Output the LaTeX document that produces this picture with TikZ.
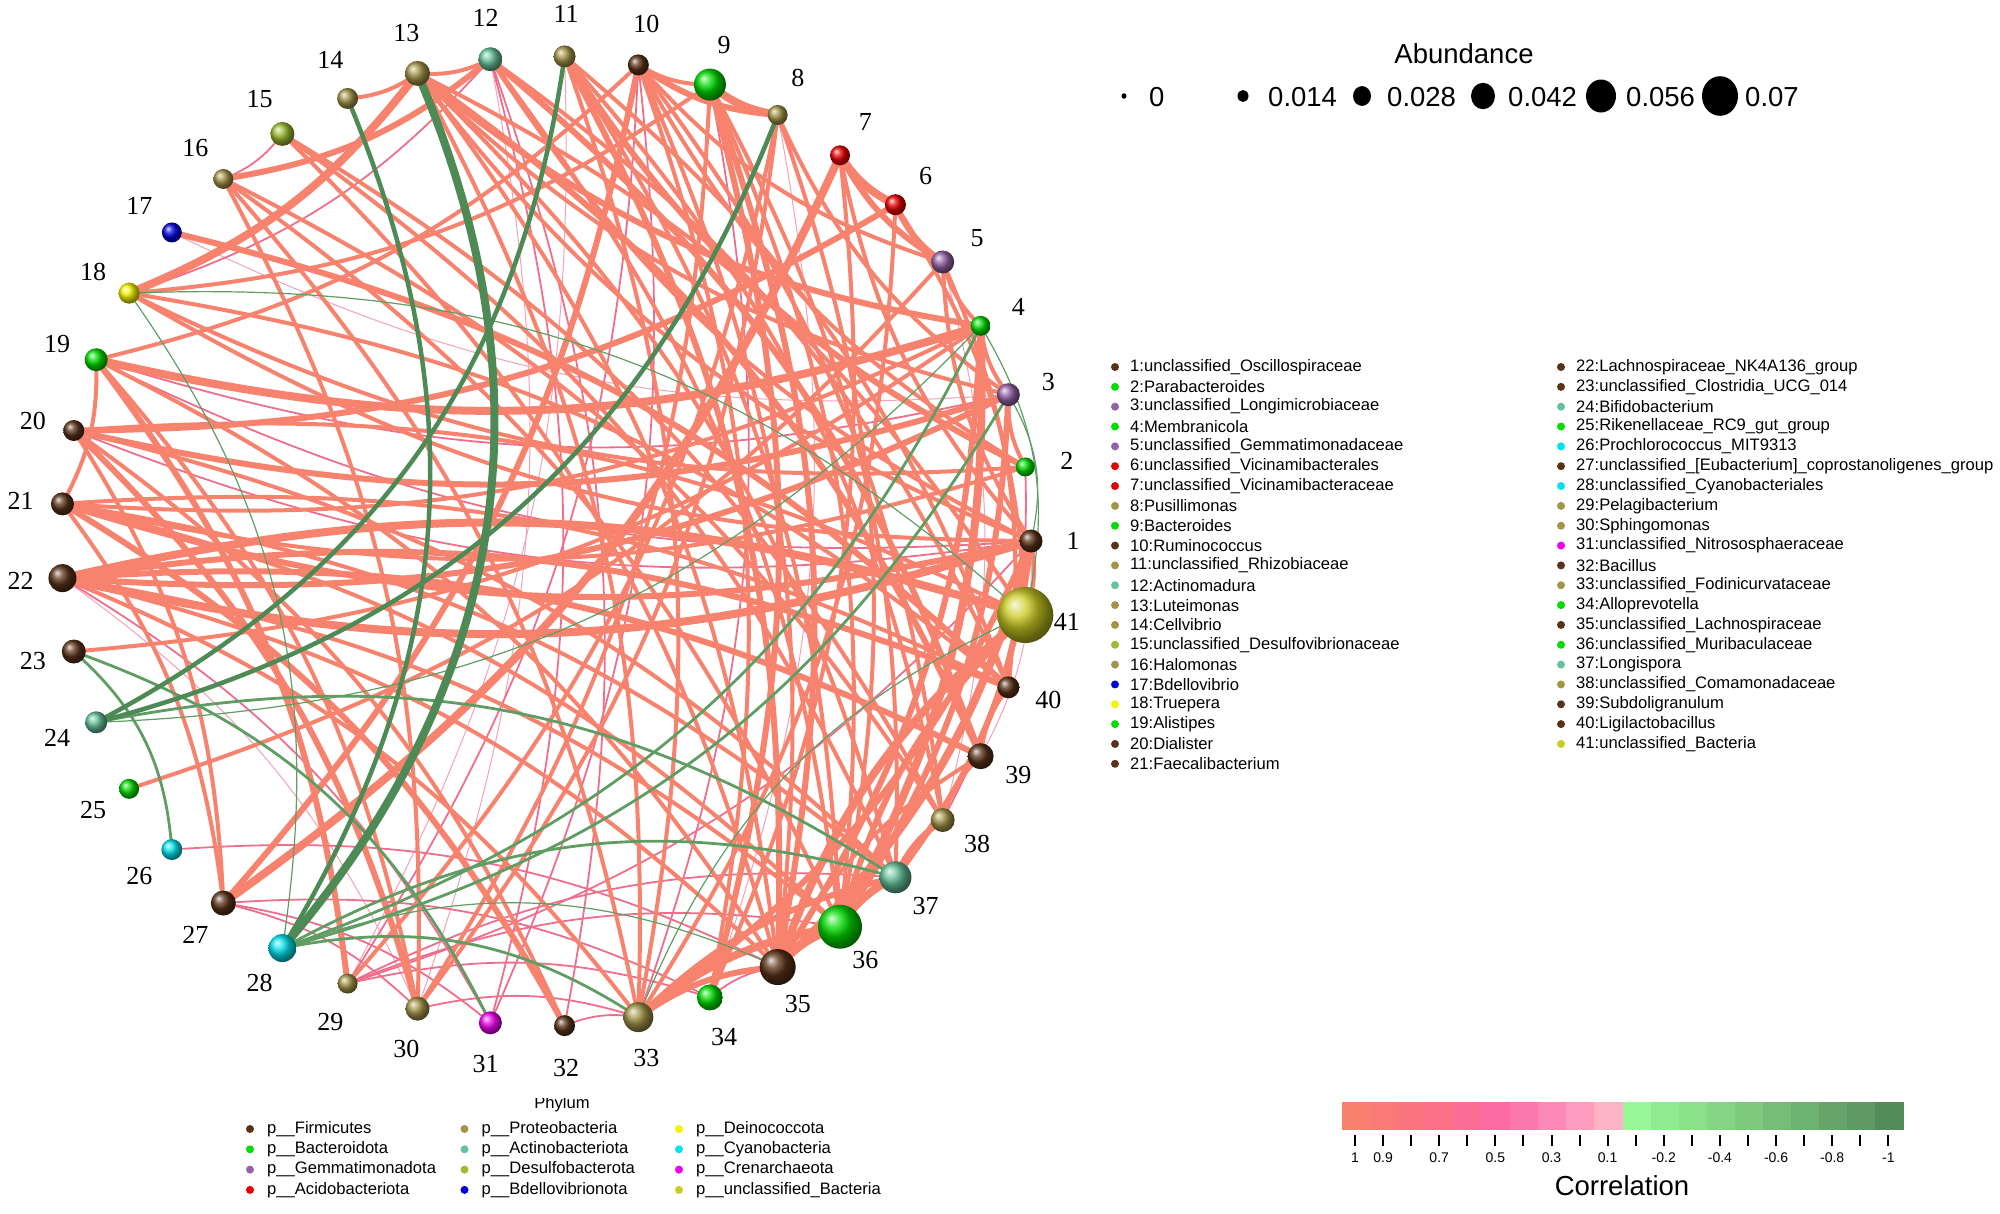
\documentclass[tikz,border=0pt]{standalone}
\usepackage{fontspec}
\setmainfont{Liberation Sans}
\newfontfamily\labfont{Liberation Serif}
\usetikzlibrary{shapes.geometric}
% phylum colours
\definecolor{firm}{HTML}{5A3218}
\definecolor{bact}{HTML}{00DD00}
\definecolor{gemm}{HTML}{9462A6}
\definecolor{acid}{HTML}{E80000}
\definecolor{prot}{HTML}{A39548}
\definecolor{acti}{HTML}{66C29A}
\definecolor{desu}{HTML}{9CBB30}
\definecolor{bdel}{HTML}{0000DD}
\definecolor{dein}{HTML}{F4F400}
\definecolor{cyan}{HTML}{00E2EC}
\definecolor{cren}{HTML}{EE00EE}
\definecolor{uncl}{HTML}{CCCC22}
% edge colours
\definecolor{salA}{HTML}{F7836F}
\definecolor{salB}{HTML}{EE6E8C}
\definecolor{salC}{HTML}{F4A2B6}
\definecolor{grnA}{HTML}{4E8A55}
\definecolor{grnB}{HTML}{5F9D63}
% colour bar
\definecolor{cb1}{HTML}{F9806F}\definecolor{cb2}{HTML}{FA7A78}
\definecolor{cb3}{HTML}{FB7580}\definecolor{cb4}{HTML}{FC7088}
\definecolor{cb5}{HTML}{FD6C94}\definecolor{cb6}{HTML}{FE6AA2}
\definecolor{cb7}{HTML}{FC78AE}\definecolor{cb8}{HTML}{FC88B6}
\definecolor{cb9}{HTML}{FD9CBF}\definecolor{cb10}{HTML}{FDB4C4}
\definecolor{cb11}{HTML}{98F898}\definecolor{cb12}{HTML}{90EC90}
\definecolor{cb13}{HTML}{8AE18A}\definecolor{cb14}{HTML}{84D684}
\definecolor{cb15}{HTML}{7ECB7E}\definecolor{cb16}{HTML}{76BE78}
\definecolor{cb17}{HTML}{6EB272}\definecolor{cb18}{HTML}{66A46A}
\definecolor{cb19}{HTML}{5E9862}\definecolor{cb20}{HTML}{528A58}

\begin{document}
\begin{tikzpicture}[x=1pt, y=1pt,
    ball/.style={circle, inner sep=0pt, shading=ball},
    pA/.style={draw=salA, line width=8pt, bend left=15},
    pB/.style={draw=salA, line width=6pt, bend left=15},
    pC/.style={draw=salA, line width=4pt, bend left=15},
    pE/.style={draw=salB, line width=1.8pt, bend left=15},
    pF/.style={draw=salC, line width=1pt, bend left=15},
    nA/.style={draw=grnA, line width=8pt, bend left=32},
    nB/.style={draw=grnA, line width=4.5pt, bend left=27},
    nC/.style={draw=grnB, line width=2.8pt, bend left=22},
    nD/.style={draw=grnB, line width=1.2pt, bend left=22},
    lbl/.style={font=\labfont\fontsize{26}{26}\selectfont},
    txt/.style={anchor=west, inner sep=0pt, font=\fontsize{16.6}{18}\selectfont},
    big/.style={inner sep=0pt, font=\fontsize{27.5}{30}\selectfont},
    tick/.style={inner sep=0pt, font=\fontsize{14}{16}\selectfont},
    dot/.style={circle, inner sep=0pt, minimum size=8pt},
  ]
  %%%%% START %%%%%
  \useasboundingbox (0,0) rectangle (2000,-1213);

  % positions on the ring
  \foreach \i in {1,...,41}
    \coordinate (p\i) at ({546+485*cos((\i-1)*360/41)}, {-541+485*sin((\i-1)*360/41)});

  % positive correlations
  \foreach \a/\b in {1/39, 12/30, 8/34, 22/30, 5/38, 11/29, 3/17}
    \draw[pF] (p\a) to (p\b);
  \foreach \a/\b in {15/16, 12/18, 12/31, 12/32, 27/31, 10/31, 22/31, 29/36, 29/34, 29/37, 1/29,
      27/34, 27/30, 26/35, 34/35, 30/33, 32/33, 1/19, 3/19, 1/20, 2/38, 10/29, 9/33}
    \draw[pE] (p\a) to (p\b);
  \foreach \a/\b in {9/10, 3/4, 2/3, 1/41, 39/40, 38/39, 1/5, 5/40, 4/21, 4/23, 3/13, 2/18, 2/21,
      2/10, 1/12, 13/41, 20/41, 6/41, 21/40, 11/40, 12/40, 35/39, 15/38, 11/38, 16/38, 13/37,
      15/37, 9/37, 20/37, 8/36, 12/36, 22/36, 16/36, 9/36, 10/35, 19/35, 13/35, 22/35, 10/34,
      7/34, 11/33, 13/33, 22/33, 16/33, 6/33, 9/30, 19/30, 16/30, 8/30, 8/29, 21/27, 20/27,
      5/25, 21/36, 21/37, 19/21, 20/32, 10/19, 9/18, 18/40, 1/18, 15/35, 13/14, 12/13, 1/13,
      11/36, 5/10, 10/38, 3/8, 1/7, 4/5}
    \draw[pC] (p\a) to (p\b);
  \foreach \a/\b in {3/22, 22/40, 22/39, 33/37, 1/33, 36/41, 4/35, 3/36, 5/6, 5/7, 8/10, 9/35,
      9/34, 4/13, 17/40, 1/21, 3/20, 12/16, 20/30, 21/32, 11/35, 12/39, 6/20, 19/29, 33/35,
      40/41, 37/38, 2/11, 10/27, 13/39, 1/37}
    \draw[pB] (p\a) to (p\b);
  \foreach \a/\b in {1/22, 22/41, 1/35, 35/41, 4/36, 4/19, 13/18, 7/27, 6/7, 36/37, 35/36, 33/36, 8/9}
    \draw[pA] (p\a) to (p\b);

  % negative correlations
  \foreach \a/\b in {18/28, 18/41, 33/41, 3/1, 4/41, 4/24, 28/35}
    \draw[nD] (p\a) to (p\b);
  \foreach \a/\b in {4/28, 3/28, 23/26, 23/31, 28/37, 28/33, 24/37}
    \draw[nC] (p\a) to (p\b);
  \foreach \a/\b in {14/28, 11/24, 8/24}
    \draw[nB] (p\a) to (p\b);
  \draw[nA] (p13) to (p28);

  % genera, sized by abundance
  \foreach \i/\c/\d in {1/firm/23, 2/bact/19, 3/gemm/23, 4/bact/20, 5/gemm/23, 6/acid/21,
      7/acid/20, 8/prot/20, 9/bact/32, 10/firm/21, 11/prot/22, 12/acti/24, 13/prot/25,
      14/prot/21, 15/desu/24, 16/prot/20, 17/bdel/20, 18/dein/21, 19/bact/23, 20/firm/21,
      21/firm/23, 22/firm/28, 23/firm/24, 24/acti/22, 25/bact/20, 26/cyan/21, 27/firm/25,
      28/cyan/28, 29/prot/20, 30/prot/24, 31/cren/23, 32/firm/21, 33/prot/30, 34/bact/26,
      35/firm/36, 36/bact/44, 37/acti/32, 38/prot/24, 39/firm/26, 40/firm/22, 41/uncl/56}
    \node[ball, ball color=\c, minimum size=\d pt] (b\i) at (p\i) {};
  \foreach \i in {1,...,41}
    \node[lbl] (l\i) at ({546+527*cos((\i-1)*360/41)}, {-541+527*sin((\i-1)*360/41)}) {\i};

  % abundance legend
  \node[big] (abt) at (1464,-54) {Abundance};
  \foreach \k/\x/\r/\t in {0/1124/2.5/0, 1/1243/5.5/0.014, 2/1362/9/0.028, 3/1483/12/0.042,
      4/1601/15/0.056, 5/1720/18/0.07} {
    \node[ellipse, fill=black, inner sep=0pt, minimum width=2*\r pt, minimum height=2.2*\r pt] (s\k) at (\x,-96) {};
    \node[big, anchor=west] (v\k) at ({\x+25},-97) {\t};
  }

  % genus legend
  \foreach \i/\c/\t in {1/firm/unclassified\_Oscillospiraceae, 2/bact/Parabacteroides,
      3/gemm/unclassified\_Longimicrobiaceae, 4/bact/Membranicola,
      5/gemm/unclassified\_Gemmatimonadaceae, 6/acid/unclassified\_Vicinamibacterales,
      7/acid/unclassified\_Vicinamibacteraceae, 8/prot/Pusillimonas, 9/bact/Bacteroides,
      10/firm/Ruminococcus, 11/prot/unclassified\_Rhizobiaceae, 12/acti/Actinomadura,
      13/prot/Luteimonas, 14/prot/Cellvibrio, 15/desu/unclassified\_Desulfovibrionaceae,
      16/prot/Halomonas, 17/bdel/Bdellovibrio, 18/dein/Truepera, 19/bact/Alistipes,
      20/firm/Dialister, 21/firm/Faecalibacterium} {
    \node[dot, fill=\c] (d\i) at (1115, {-367-19.84*(\i-1)}) {};
    \node[txt] (e\i) at (1130, {-367-19.84*(\i-1)}) {\i:\t};
  }
  \foreach \i/\c/\t in {22/firm/Lachnospiraceae\_NK4A136\_group,
      23/firm/unclassified\_Clostridia\_UCG\_014, 24/acti/Bifidobacterium,
      25/bact/Rikenellaceae\_RC9\_gut\_group, 26/cyan/Prochlorococcus\_MIT9313,
      27/firm/{unclassified\_[Eubacterium]\_coprostanoligenes\_group},
      28/cyan/unclassified\_Cyanobacteriales, 29/prot/Pelagibacterium, 30/prot/Sphingomonas,
      31/cren/unclassified\_Nitrososphaeraceae, 32/firm/Bacillus,
      33/prot/unclassified\_Fodinicurvataceae, 34/bact/Alloprevotella,
      35/firm/unclassified\_Lachnospiraceae, 36/bact/unclassified\_Muribaculaceae,
      37/acti/Longispora, 38/prot/unclassified\_Comamonadaceae, 39/firm/Subdoligranulum,
      40/firm/Ligilactobacillus, 41/uncl/unclassified\_Bacteria} {
    \node[dot, fill=\c] (d\i) at (1561, {-367-19.84*(\i-22)}) {};
    \node[txt] (e\i) at (1576, {-367-19.84*(\i-22)}) {\i:\t};
  }

  % phylum legend
  \begin{scope}
    \clip (440,-1098) rectangle (690,-1120);
    \node[anchor=base, inner sep=0pt, font=\fontsize{16.6}{18}\selectfont] (pht) at (562,-1108) {Phylum};
  \end{scope}
  \foreach \cl/\rw/\c/\t in {0/0/firm/Firmicutes, 0/1/bact/Bacteroidota, 0/2/gemm/Gemmatimonadota,
      0/3/acid/Acidobacteriota, 1/0/prot/Proteobacteria, 1/1/acti/Actinobacteriota,
      1/2/desu/Desulfobacterota, 1/3/bdel/Bdellovibrionota, 2/0/dein/Deinococcota,
      2/1/cyan/Cyanobacteria, 2/2/cren/Crenarchaeota, 2/3/uncl/unclassified\_Bacteria} {
    \node[dot, fill=\c] (f\cl\rw) at ({250+214.5*\cl}, {-1129-20.3*\rw}) {};
    \node[txt] (g\cl\rw) at ({267+214.5*\cl}, {-1129-20.3*\rw}) {p\_\_\t};
  }

  % correlation colour bar
  \foreach \k in {1,...,20}
    \fill[cb\k] ({1342+28.05*(\k-1)},-1102) rectangle ({1342.6+28.05*\k},-1130);
  \foreach \k in {1,...,20}
    \draw[line width=2pt] ({1355+28.07*(\k-1)},-1135) -- ++(0,-11);
  \foreach \k/\t in {1/1, 2/0.9, 4/0.7, 6/0.5, 8/0.3, 10/0.1, 12/-0.2, 14/-0.4, 16/-0.6, 18/-0.8, 20/-1}
    \node[tick] (k\k) at ({1355+28.07*(\k-1)},-1158) {\t};
  \node[big] (cor) at (1622,-1186) {Correlation};
  %%%%% END %%%%%
\end{tikzpicture}
\end{document}
